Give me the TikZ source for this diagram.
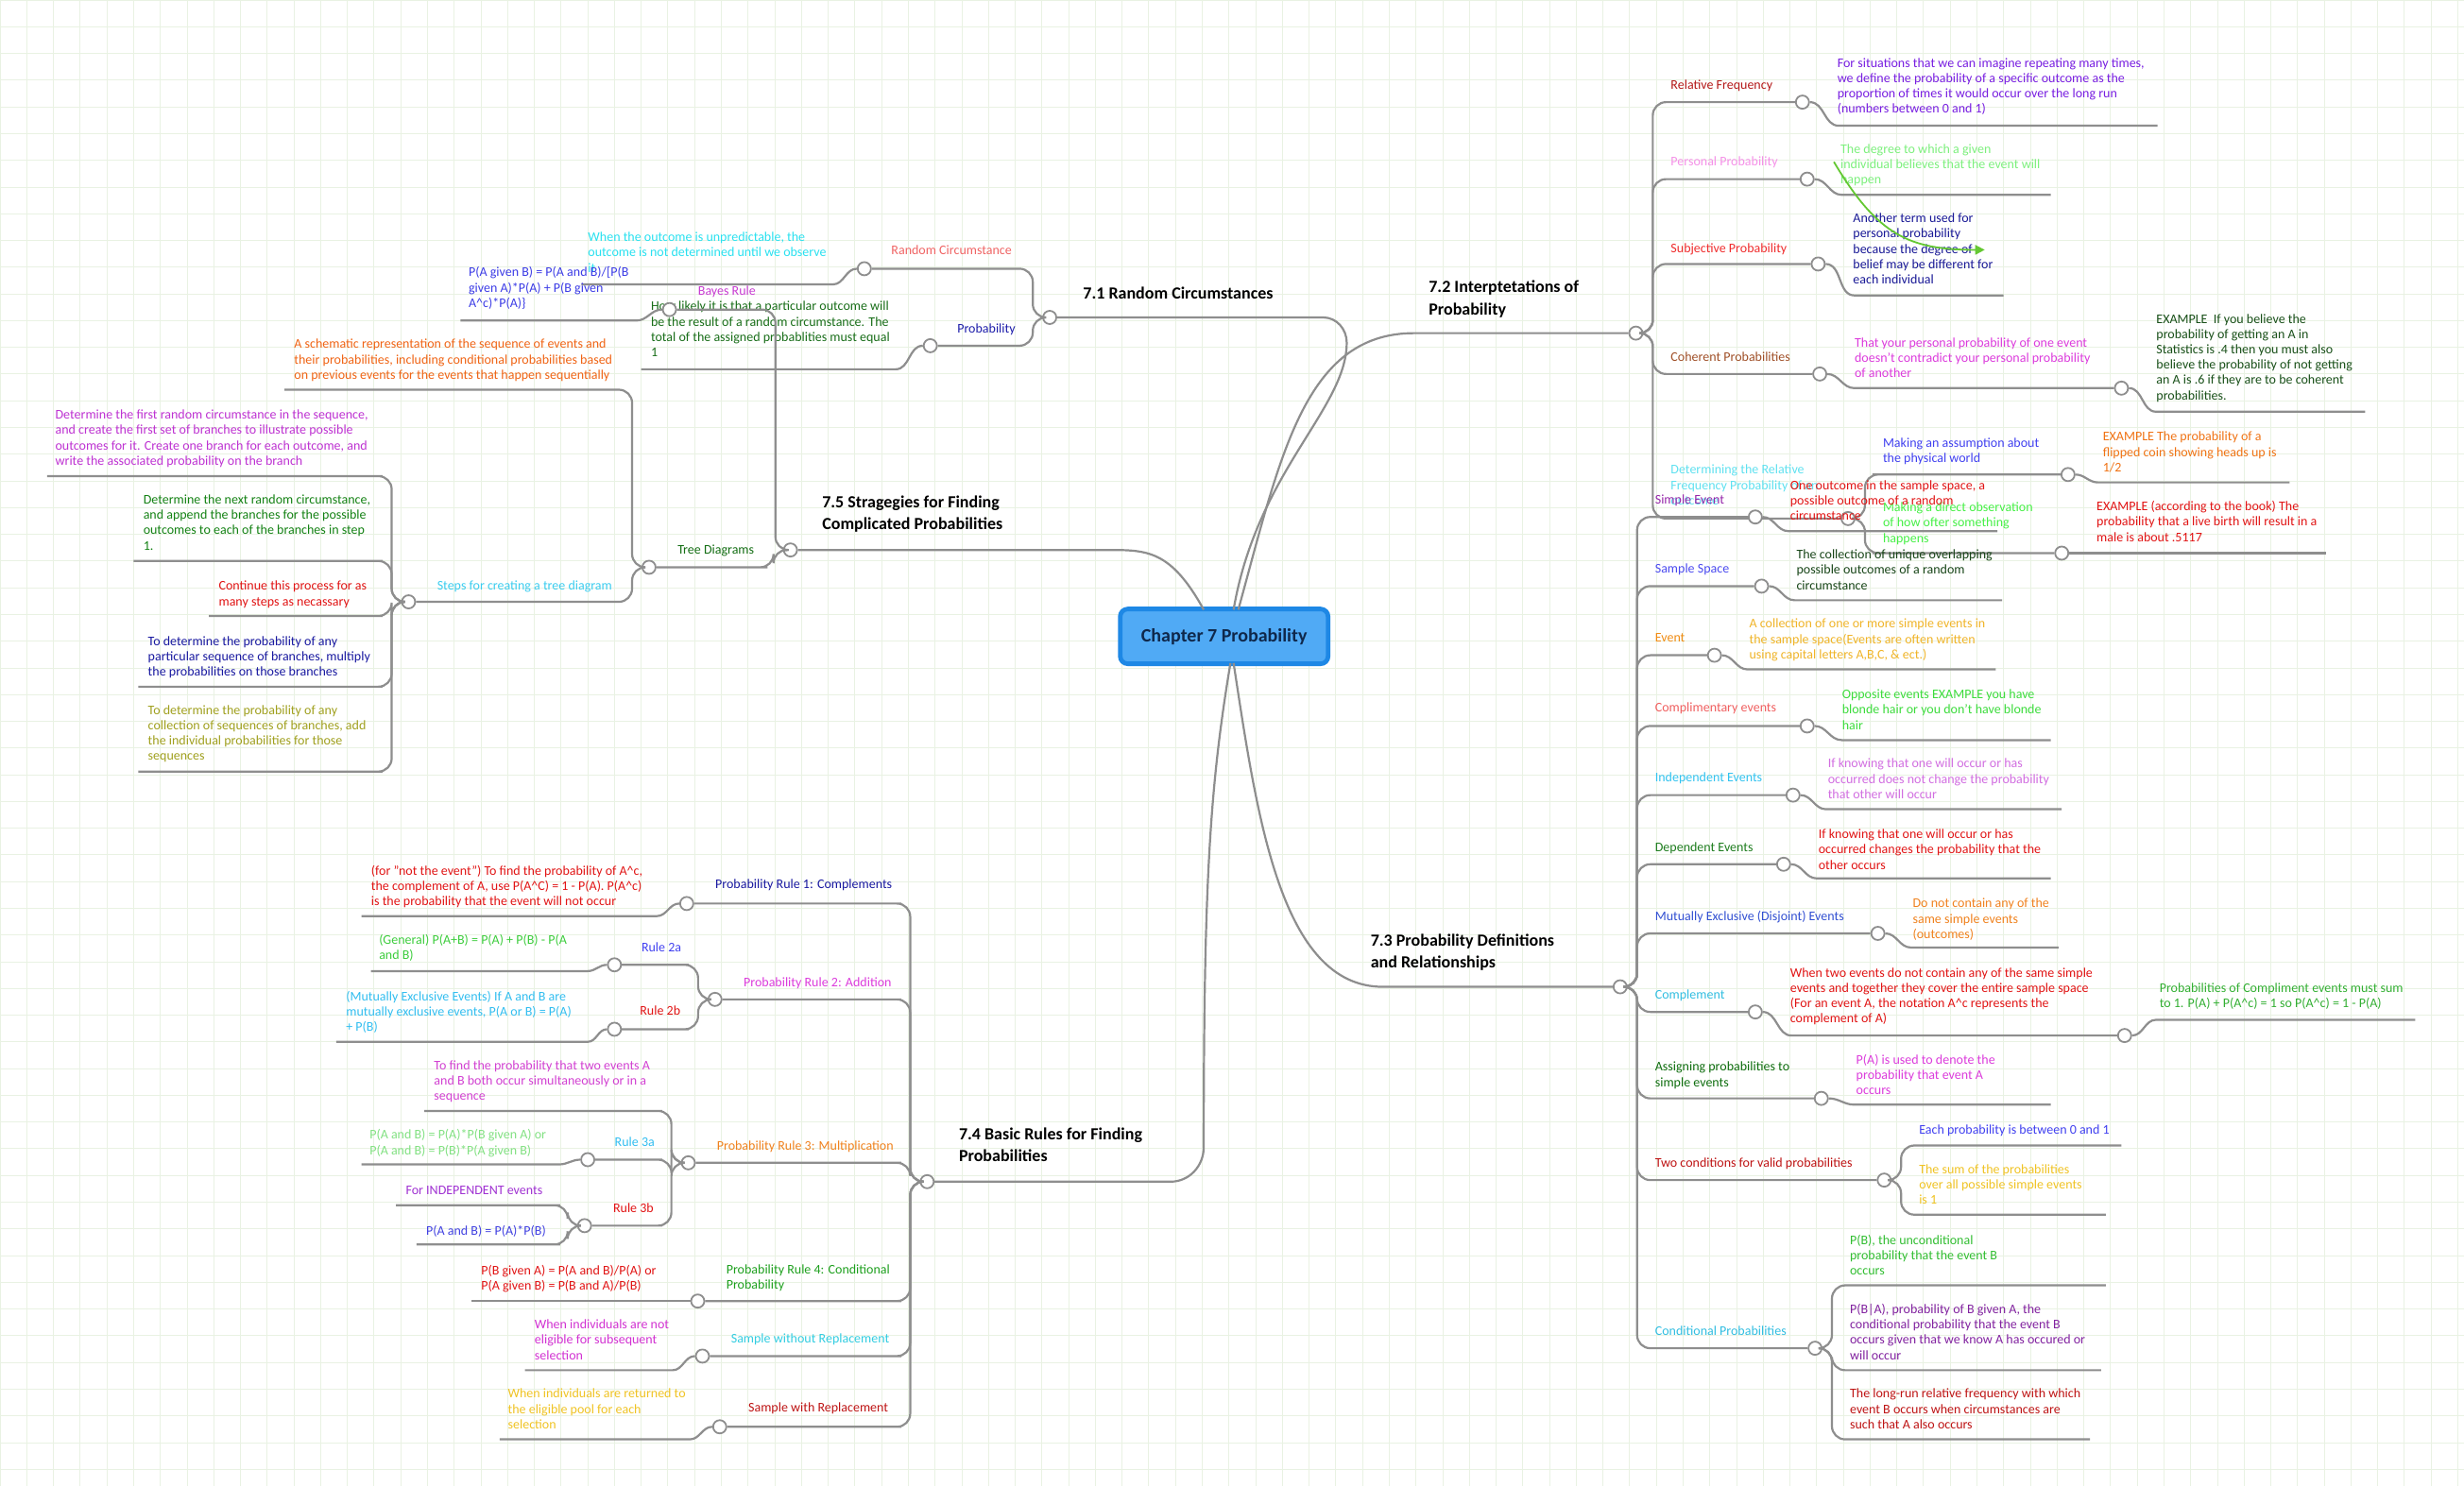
\documentclass[tikz,border=0pt]{standalone}
\usepackage{fontspec}
\setmainfont{Carlito}
\usetikzlibrary{arrows.meta}
\definecolor{ln}{HTML}{8E8E8E}
\definecolor{gridc}{HTML}{E9F2E3}
\definecolor{arrg}{RGB}{100,200,50}
\tikzset{
 x=0.8316pt,y=-0.8316pt,
 br/.style={draw=ln,line width=1.1pt,rounded corners=7pt},
 hk/.style={draw=ln,line width=1.1pt},
 dot/.style={circle,draw=ln,fill=white,line width=0.9pt,inner sep=0pt,minimum size=7pt},
 tx/.style={inner sep=0pt,anchor=north west,align=left,yshift=-2.2pt,font=\fontsize{7}{8.1}\selectfont},
 hd/.style={inner sep=0pt,anchor=north west,align=left,yshift=-2pt,font=\fontsize{9}{11.6}\selectfont\bfseries,text=black},
}
% trunk connectors
\newcommand\leafRt[5]{\coordinate (#5a) at (#2,#3);\coordinate (#5) at (#4,#3);\draw[br] (#1.east) -- ++(5pt,0pt) |- (#5a) -- (#5);}
\newcommand\midRt[5]{\node[dot] (#5) at (#4,#3) {};\coordinate (#5a) at (#2,#3);\draw[br] (#1.east) -- ++(5pt,0pt) |- (#5a) -- (#5);}
\newcommand\leafLt[5]{\coordinate (#5a) at (#2,#3);\coordinate (#5) at (#4,#3);\draw[br] (#1.west) -- ++(-5pt,0pt) |- (#5a) -- (#5);}
\newcommand\midLt[5]{\node[dot] (#5) at (#4,#3) {};\coordinate (#5a) at (#2,#3);\draw[br] (#1.west) -- ++(-5pt,0pt) |- (#5a) -- (#5);}
% hook connectors
\newcommand\leafR[5]{\coordinate (#5a) at (#2,#3);\coordinate (#5) at (#4,#3);\draw[hk] (#1) to[out=0,in=180] (#5a) -- (#5);}
\newcommand\midR[5]{\node[dot] (#5) at (#4,#3) {};\coordinate (#5a) at (#2,#3);\draw[hk] (#1) to[out=0,in=180] (#5a) -- (#5);}
\newcommand\leafL[5]{\coordinate (#5a) at (#2,#3);\coordinate (#5) at (#4,#3);\draw[hk] (#1) to[out=180,in=0] (#5a) -- (#5);}
\newcommand\T[5]{\node[tx,text=#1] (#2) at (#3,#4) {#5};}
\begin{document}
\begin{tikzpicture}
\fill[white] (0,0) rectangle (1568,946);
\useasboundingbox (0,0) rectangle (1568,946);
\foreach \i in {0,17,...,1568} \draw[gridc,line width=0.4pt] (\i,0) -- (\i,946);
\foreach \j in {0,17,...,946} \draw[gridc,line width=0.4pt] (0,\j) -- (1568,\j);

% center
\node[draw={rgb,255:red,30;green,136;blue,229},line width=2.4pt,fill={rgb,255:red,80;green,170;blue,245},rounded corners=4pt,minimum width=110pt,minimum height=29pt,font=\fontsize{10}{12}\selectfont\bfseries,text={rgb,255:red,15;green,40;blue,75}] (ctr) at (779,405) {Chapter 7 Probability};

% main dots
\node[dot] (c71) at (668,202) {};
\node[dot] (c72) at (1041,212) {};
\node[dot] (c73) at (1031,628) {};
\node[dot] (c74) at (590,752) {};
\node[dot] (c75) at (503,350) {};
\draw[hk] (785,388) .. controls (800,300) and (857,260) .. (857,218) to[out=90,in=0] (842,202) -- (c71);
\draw[hk] (788,388) .. controls (815,290) and (830,212) .. (900,212) -- (c72);
\draw[hk] (785,422) .. controls (800,520) and (815,628) .. (880,628) -- (c73);
\draw[hk] (783,422) .. controls (770,500) and (766,560) .. (766,730) to[out=-90,in=0] (745,752) -- (c74);
\draw[hk] (766,388) .. controls (745,350) and (730,350) .. (705,350) -- (c75);
\node[hd] (h71) at (689,180) {7.1 Random Circumstances};
\node[hd] (h72) at (909,176) {7.2 Interptetations of\\Probability};
\node[hd] (h73) at (872,592) {7.3 Probability Definitions\\and Relationships};
\node[hd] (h74) at (610,715) {7.4 Basic Rules for Finding\\Probabilities};
\node[hd] (h75) at (523,313) {7.5 Stragegies for Finding\\Complicated Probabilities};

% ---- 7.1
\midLt{c71}{640}{171}{550}{rc}
\T{{rgb,255:red,240;green,100;blue,100}}{rcl}{567}{153}{Random Circumstance}
\leafL{rc}{530}{181}{370}{rcc}
\T{{rgb,255:red,40;green,225;blue,240}}{rcct}{374}{145}{When the outcome is unpredictable, the\\outcome is not determined until we observe\\it}
\midLt{c71}{640}{220}{592}{pr}
\T{{rgb,255:red,30;green,30;blue,170}}{prl}{609}{203}{Probability}
\leafL{pr}{570}{235}{408}{prc}
\T{{rgb,255:red,25;green,110;blue,25}}{prct}{414}{189}{How likely it is that a particular outcome will\\be the result of a random circumstance. The\\total of the assigned probablities must equal\\1}

% ---- 7.5
\node[dot] (by) at (426,197) {};
\draw[br] (c75.west) -- ++(-4pt,0pt) |- (by);
\T{{rgb,255:red,200;green,60;blue,210}}{byl}{444}{179}{Bayes Rule}
\leafL{by}{405}{204}{293}{byc}
\T{{rgb,255:red,60;green,60;blue,230}}{byct}{298}{167}{P(A given B) = P(A and B)/[P(B\\given A)*P(A) + P(B given\\A\^{}c)*P(A)\}}
\midLt{c75}{480}{361}{413}{td}
\T{{rgb,255:red,20;green,110;blue,20}}{tdl}{431}{344}{Tree Diagrams}
\leafLt{td}{385}{248}{181}{sr}
\T{{rgb,255:red,240;green,100;blue,20}}{srt}{187}{213}{A schematic representation of the sequence of events and\\their probabilities, including conditional probabilities based\\on previous events for the events that happen sequentially}
\midLt{td}{385}{383}{260}{st}
\T{{rgb,255:red,60;green,205;blue,240}}{stl}{278}{367}{Steps for creating a tree diagram}
\leafLt{st}{235}{303}{30}{s1}
\T{{rgb,255:red,190;green,50;blue,210}}{s1t}{35}{258}{Determine the first random circumstance in the sequence,\\and create the first set of branches to illustrate possible\\outcomes for it. Create one branch for each outcome, and\\write the associated probability on the branch}
\leafLt{st}{235}{357}{85}{s2}
\T{{rgb,255:red,20;green,130;blue,20}}{s2t}{91}{312}{Determine the next random circumstance,\\and append the branches for the possible\\outcomes to each of the branches in step\\1.}
\leafLt{st}{235}{392}{133}{s3}
\T{{rgb,255:red,225;green,20;blue,20}}{s3t}{139}{367}{Continue this process for as\\many steps as necassary}
\leafLt{st}{235}{437}{88}{s4}
\T{{rgb,255:red,25;green,25;blue,160}}{s4t}{94}{402}{To determine the probability of any\\particular sequence of branches, multiply\\the probabilities on those branches}
\leafLt{st}{235}{491}{88}{s5}
\T{{rgb,255:red,160;green,160;blue,30}}{s5t}{94}{446}{To determine the probability of any\\collection of sequences of branches, add\\the individual probabilities for those\\sequences}

% ---- 7.2
\midRt{c72}{1070}{65}{1147}{rf}
\T{{rgb,255:red,180;green,25;blue,25}}{rfl}{1063}{48}{Relative Frequency}
\leafR{rf}{1170}{80}{1373}{rfc}
\T{{rgb,255:red,120;green,30;blue,225}}{rfct}{1169}{34}{For situations that we can imagine repeating many times,\\we define the probability of a specific outcome as the\\proportion of times it would occur over the long run\\(numbers between 0 and 1)}
\midRt{c72}{1070}{114}{1150}{pp}
\T{{rgb,255:red,245;green,145;blue,232}}{ppl}{1063}{97}{Personal Probability}
\leafR{pp}{1172}{124}{1305}{ppc}
\T{{rgb,255:red,125;green,240;blue,125}}{ppct}{1171}{89}{The degree to which a given\\individual believes that the event will\\happen}
\midRt{c72}{1070}{168}{1157}{sp}
\T{{rgb,255:red,240;green,45;blue,45}}{spl}{1063}{152}{Subjective Probability}
\leafR{sp}{1180}{188}{1275}{spc}
\T{{rgb,255:red,25;green,25;blue,150}}{spct}{1179}{133}{Another term used for\\personal probability\\because the degree of\\belief may be different for\\each individual}
\coordinate (ga) at (1167,103); \coordinate (gb) at (1263,159);
\draw[color=arrg,line width=0.9pt,-{Triangle[length=5pt,width=5pt]}] (ga) .. controls (1195,150) and (1215,159) .. (gb);
\midRt{c72}{1070}{238}{1158}{cp}
\T{{rgb,255:red,160;green,80;blue,40}}{cpl}{1063}{221}{Coherent Probabilities}
\midR{cp}{1180}{247}{1350}{cpc}
\T{{rgb,255:red,220;green,60;blue,220}}{cpct}{1180}{212}{That your personal probability of one event\\doesn't contradict your personal probability\\of another}
\leafR{cpc}{1372}{262}{1505}{cpe}
\T{{rgb,255:red,25;green,80;blue,25}}{cpet}{1372}{197}{EXAMPLE\ \ If you believe the\\probability of getting an A in\\Statistics is .4 then you must also\\believe the probability of not getting\\an A is .6 if they are to be coherent\\probabilities.}
\midRt{c72}{1070}{330}{1176}{dr}
\T{{rgb,255:red,95;green,225;blue,240}}{drl}{1063}{293}{Determining the Relative\\Frequency Probability of an\\outcome}
\midRt{dr}{1200}{302}{1316}{ma}
\T{{rgb,255:red,65;green,65;blue,240}}{mat}{1198}{276}{Making an assumption about\\the physical world}
\leafR{ma}{1335}{307}{1457}{mae}
\T{{rgb,255:red,240;green,115;blue,20}}{maet}{1338}{272}{EXAMPLE The probability of a\\flipped coin showing heads up is\\1/2}
\midRt{dr}{1200}{352}{1312}{md}
\leafR{md}{1325}{352}{1480}{mde}
\T{{rgb,255:red,70;green,240;blue,70}}{mdt}{1198}{317}{Making a direct observation\\of how ofter something\\happens}
\T{{rgb,255:red,225;green,20;blue,20}}{mdet}{1334}{316}{EXAMPLE (according to the book) The\\probability that a live birth will result in a\\male is about .5117}

% ---- 7.3
\midRt{c73}{1060}{329}{1117}{se}
\T{{rgb,255:red,150;green,40;blue,170}}{sel}{1053}{312}{Simple Event}
\leafR{se}{1138}{338}{1271}{sec}
\T{{rgb,255:red,225;green,20;blue,20}}{sect}{1139}{303}{One outcome in the sample space, a\\possible outcome of a random\\circumstance}
\midRt{c73}{1060}{373}{1121}{ss}
\T{{rgb,255:red,75;green,75;blue,240}}{ssl}{1053}{356}{Sample Space}
\leafR{ss}{1142}{382}{1274}{ssc}
\T{{rgb,255:red,25;green,70;blue,25}}{ssct}{1143}{347}{The collection of unique overlapping\\possible outcomes of a random\\circumstance}
\midRt{c73}{1060}{417}{1091}{ev}
\T{{rgb,255:red,240;green,140;blue,20}}{evl}{1053}{400}{Event}
\leafR{ev}{1112}{426}{1270}{evc}
\T{{rgb,255:red,240;green,180;blue,40}}{evct}{1113}{391}{A collection of one or more simple events in\\the sample space(Events are often written\\using capital letters A,B,C, \& ect.)}
\midRt{c73}{1060}{462}{1150}{ce}
\T{{rgb,255:red,240;green,95;blue,95}}{cel}{1053}{444}{Complimentary events}
\leafR{ce}{1172}{471}{1305}{cec}
\T{{rgb,255:red,60;green,220;blue,60}}{cect}{1172}{436}{Opposite events EXAMPLE you have\\blonde hair or you don't have blonde\\hair}
\midRt{c73}{1060}{506}{1141}{ie}
\T{{rgb,255:red,50;green,195;blue,240}}{iel}{1053}{489}{Independent Events}
\leafR{ie}{1162}{515}{1312}{iec}
\T{{rgb,255:red,210;green,110;blue,225}}{iect}{1163}{480}{If knowing that one will occur or has\\occurred does not change the probability\\that other will occur}
\midRt{c73}{1060}{550}{1135}{de}
\T{{rgb,255:red,30;green,125;blue,30}}{del}{1053}{533}{Dependent Events}
\leafR{de}{1156}{559}{1305}{dec}
\T{{rgb,255:red,225;green,20;blue,20}}{dect}{1157}{525}{If knowing that one will occur or has\\occurred changes the probability that the\\other occurs}
\midRt{c73}{1060}{594}{1195}{me}
\T{{rgb,255:red,50;green,80;blue,210}}{mel}{1053}{577}{Mutually Exclusive (Disjoint) Events}
\leafR{me}{1216}{603}{1310}{mec}
\T{{rgb,255:red,240;green,130;blue,30}}{mect}{1217}{569}{Do not contain any of the\\same simple events\\(outcomes)}
\midRt{c73}{1060}{644}{1117}{co}
\T{{rgb,255:red,50;green,190;blue,225}}{col}{1053}{627}{Complement}
\midR{co}{1140}{659}{1352}{coc}
\T{{rgb,255:red,225;green,20;blue,20}}{coct}{1139}{613}{When two events do not contain any of the same simple\\events and together they cover the entire sample space\\(For an event A, the notation A\^{}c represents the\\complement of A)}
\leafR{coc}{1372}{649}{1537}{coe}
\T{{rgb,255:red,50;green,175;blue,50}}{coet}{1374}{623}{Probabilities of Compliment events must sum\\to 1. P(A) + P(A\^{}c) = 1 so P(A\^{}c) = 1 - P(A)}
\midRt{c73}{1060}{699}{1159}{ap}
\T{{rgb,255:red,15;green,110;blue,15}}{apl}{1053}{673}{Assigning probabilities to\\simple events}
\leafR{ap}{1180}{703}{1305}{apc}
\T{{rgb,255:red,220;green,60;blue,220}}{apct}{1181}{668}{P(A) is used to denote the\\probability that event A\\occurs}
\midRt{c73}{1060}{751}{1199}{tc}
\T{{rgb,255:red,190;green,20;blue,20}}{tcl}{1053}{734}{Two conditions for valid probabilities}
\leafRt{tc}{1226}{729}{1350}{tc1}
\T{{rgb,255:red,65;green,65;blue,240}}{tc1t}{1221}{713}{Each probability is between 0 and 1}
\leafRt{tc}{1226}{773}{1340}{tc2}
\T{{rgb,255:red,240;green,195;blue,35}}{tc2t}{1221}{738}{The sum of the probabilities\\over all possible simple events\\is 1}
\midRt{c73}{1060}{858}{1155}{cd}
\T{{rgb,255:red,50;green,190;blue,225}}{cdl}{1053}{841}{Conditional Probabilities}
\leafRt{cd}{1182}{818}{1340}{cd1}
\T{{rgb,255:red,50;green,190;blue,50}}{cd1t}{1177}{783}{P(B), the unconditional\\probability that the event B\\occurs}
\leafRt{cd}{1182}{872}{1337}{cd2}
\T{{rgb,255:red,130;green,35;blue,160}}{cd2t}{1177}{827}{P(B|A), probability of B given A, the\\conditional probability that the event B\\occurs given that we know A has occured or\\will occur}
\leafRt{cd}{1182}{916}{1330}{cd3}
\T{{rgb,255:red,190;green,20;blue,20}}{cd3t}{1177}{881}{The long-run relative frequency with which\\event B occurs when circumstances are\\such that A also occurs}

% ---- 7.4
\midLt{c74}{565}{575}{437}{r1}
\T{{rgb,255:red,25;green,25;blue,160}}{r1l}{455}{557}{Probability Rule 1: Complements}
\leafL{r1}{418}{583}{230}{r1c}
\T{{rgb,255:red,225;green,20;blue,20}}{r1ct}{236}{548}{(for "not the event") To find the probability of A\^{}c,\\the complement of A, use P(A\^{}C) = 1 - P(A). P(A\^{}c)\\is the probability that the event will not occur}
\midLt{c74}{565}{636}{455}{r2}
\T{{rgb,255:red,220;green,60;blue,220}}{r2l}{473}{619}{Probability Rule 2: Addition}
\midLt{r2}{430}{614}{391}{r2a}
\T{{rgb,255:red,65;green,65;blue,240}}{r2al}{408}{597}{Rule 2a}
\leafL{r2a}{374}{618}{236}{r2ac}
\T{{rgb,255:red,60;green,205;blue,60}}{r2act}{241}{592}{(General) P(A+B) = P(A) + P(B) - P(A\\and B)}
\midLt{r2}{430}{655}{391}{r2b}
\T{{rgb,255:red,225;green,20;blue,20}}{r2bl}{407}{637}{Rule 2b}
\leafL{r2b}{374}{663}{214}{r2bc}
\T{{rgb,255:red,50;green,190;blue,240}}{r2bct}{220}{628}{(Mutually Exclusive Events) If A and B are\\mutually exclusive events, P(A or B) = P(A)\\+ P(B)}
\midLt{c74}{565}{740}{438}{r3}
\T{{rgb,255:red,240;green,130;blue,30}}{r3l}{456}{723}{Probability Rule 3: Multiplication}
\leafLt{r3}{413}{707}{270}{r3c}
\T{{rgb,255:red,210;green,65;blue,210}}{r3ct}{276}{672}{To find the probability that two events A\\and B both occur simultaneously or in a\\sequence}
\midLt{r3}{413}{738}{374}{r3a}
\T{{rgb,255:red,50;green,190;blue,240}}{r3al}{391}{721}{Rule 3a}
\leafL{r3a}{356}{741}{230}{r3ac}
\T{{rgb,255:red,130;green,225;blue,130}}{r3act}{235}{716}{P(A and B) = P(A)*P(B given A) or\\P(A and B) = P(B)*P(A given B)}
\midLt{r3}{413}{780}{372}{r3b}
\T{{rgb,255:red,225;green,20;blue,20}}{r3bl}{390}{763}{Rule 3b}
\leafLt{r3b}{348}{767}{252}{r3b1}
\T{{rgb,255:red,160;green,50;blue,210}}{r3b1t}{258}{752}{For INDEPENDENT events}
\leafLt{r3b}{348}{792}{265}{r3b2}
\T{{rgb,255:red,65;green,65;blue,225}}{r3b2t}{271}{777}{P(A and B) = P(A)*P(B)}
\midLt{c74}{565}{828}{444}{r4}
\T{{rgb,255:red,30;green,160;blue,30}}{r4l}{462}{802}{Probability Rule 4: Conditional\\Probability}
\leafL{r4}{426}{828}{300}{r4c}
\T{{rgb,255:red,225;green,20;blue,20}}{r4ct}{306}{802}{P(B given A) = P(A and B)/P(A) or\\P(A given B) = P(B and A)/P(B)}
\midLt{c74}{565}{863}{447}{sw}
\T{{rgb,255:red,50;green,205;blue,225}}{swl}{465}{846}{Sample without Replacement}
\leafL{sw}{428}{872}{334}{swc}
\T{{rgb,255:red,210;green,50;blue,210}}{swct}{340}{837}{When individuals are not\\eligible for subsequent\\selection}
\midLt{c74}{565}{908}{458}{sr2}
\T{{rgb,255:red,190;green,20;blue,20}}{sr2l}{476}{890}{Sample with Replacement}
\leafL{sr2}{439}{916}{318}{sr2c}
\T{{rgb,255:red,240;green,195;blue,35}}{sr2ct}{323}{881}{When individuals are returned to\\the eligible pool for each\\selection}
\end{tikzpicture}
\end{document}
